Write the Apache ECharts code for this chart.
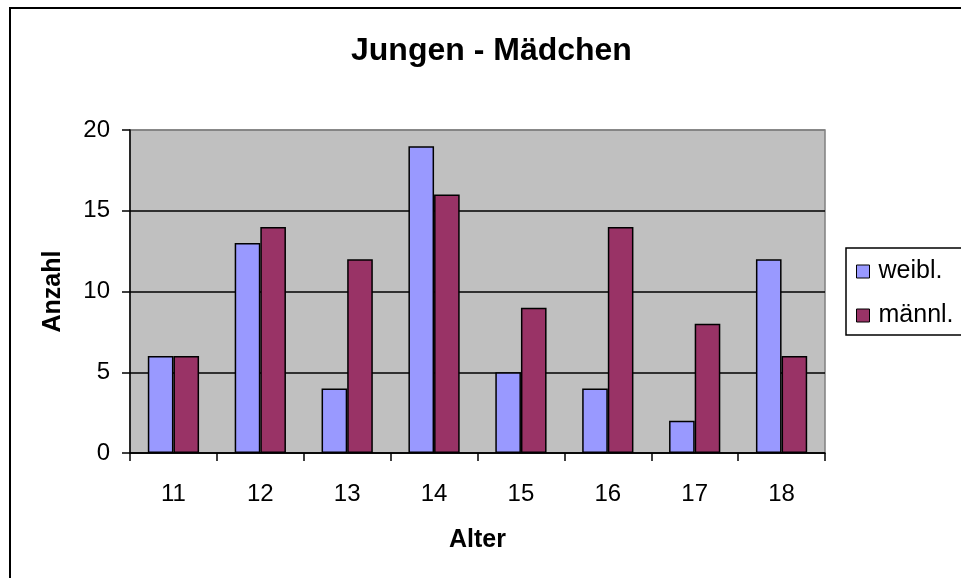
<!DOCTYPE html>
<html>
<head>
<meta charset="utf-8">
<script src="https://cdn.jsdelivr.net/npm/echarts@6/dist/echarts.min.js"></script>
<style>
  html, body { margin: 0; padding: 0; background: #fff; }
  #chart { width: 961px; height: 578px; }
</style>
</head>
<body>
<div id="chart"></div>
<script>
// Altersgruppen und Anzahl je Geschlecht
const ages = ['11', '12', '13', '14', '15', '16', '17', '18'];
const weibl = [6, 13, 4, 19, 5, 4, 2, 12];
const maennl = [6, 14, 12, 16, 9, 14, 8, 6];
const seriesNames = ['weibl.', 'männl.'];

const FONT = '"Liberation Sans", Arial, sans-serif';

const chart = echarts.init(document.getElementById('chart'));

const option = {
    backgroundColor: '#fff',
    animation: false,
    title: {
        text: 'Jungen - Mädchen',
        left: 351,
        top: 35,
        padding: 0,
        textStyle: {
            fontFamily: FONT,
            fontSize: 32,
            fontWeight: 'bold',
            color: '#000'
        }
    },
    graphic: [{
        type: 'rect',
        silent: true,
        z: -1,
        shape: { x: 10, y: 8, width: 1000, height: 620 },
        style: { fill: 'none', stroke: '#000', lineWidth: 2 }
    }],
    legend: {
        data: seriesNames,
        orient: 'vertical',
        left: 846,
        top: 248,
        padding: [11, 40, 7, 10],
        itemWidth: 13,
        itemHeight: 13,
        itemGap: 19,
        icon: 'rect',
        borderColor: '#000',
        borderWidth: 1.5,
        itemStyle: { borderColor: '#000', borderWidth: 1 },
        textStyle: {
            fontFamily: FONT,
            fontSize: 25,
            color: '#000',
            padding: [0, 0, 0, 4]
        }
    },
    grid: {
        left: 130,
        top: 130,
        right: 136,
        bottom: 125,
        show: true,
        backgroundColor: '#C0C0C0',
        borderColor: '#808080',
        borderWidth: 1.5
    },
    xAxis: {
        type: 'category',
        data: ages,
        name: 'Alter',
        nameLocation: 'middle',
        nameGap: 75,
        nameTextStyle: {
            fontFamily: FONT,
            fontSize: 25,
            fontWeight: 'bold',
            color: '#000'
        },
        axisLine: { lineStyle: { color: '#000', width: 1.5 } },
        axisTick: { show: true, length: 8, lineStyle: { color: '#000', width: 1.5 } },
        axisLabel: {
            margin: 29,
            fontFamily: FONT,
            fontSize: 24,
            color: '#000'
        }
    },
    yAxis: {
        type: 'value',
        min: 0,
        max: 20,
        interval: 5,
        name: 'Anzahl',
        nameLocation: 'middle',
        nameGap: 64,
        nameTextStyle: {
            fontFamily: FONT,
            fontSize: 25,
            fontWeight: 'bold',
            color: '#000'
        },
        axisLine: { show: true, lineStyle: { color: '#000', width: 1.5 } },
        axisTick: { show: true, length: 8, lineStyle: { color: '#000', width: 1.5 } },
        axisLabel: {
            margin: 20,
            fontFamily: FONT,
            fontSize: 24,
            color: '#000'
        },
        splitLine: {
            show: true,
            lineStyle: {
                color: ['#000', '#000', '#000', '#000', '#808080'],
                width: 1.5
            }
        }
    },
    series: [
        {
            name: seriesNames[0],
            type: 'bar',
            data: weibl,
            barGap: '0%',
            barCategoryGap: '41%',
            itemStyle: { color: '#9999FF', borderColor: '#000', borderWidth: 1.5 }
        },
        {
            name: seriesNames[1],
            type: 'bar',
            data: maennl,
            itemStyle: { color: '#993366', borderColor: '#000', borderWidth: 1.5 }
        }
    ]
};

chart.setOption(option);
window.addEventListener('resize', function() { chart.resize(); });
</script>
</body>
</html>
